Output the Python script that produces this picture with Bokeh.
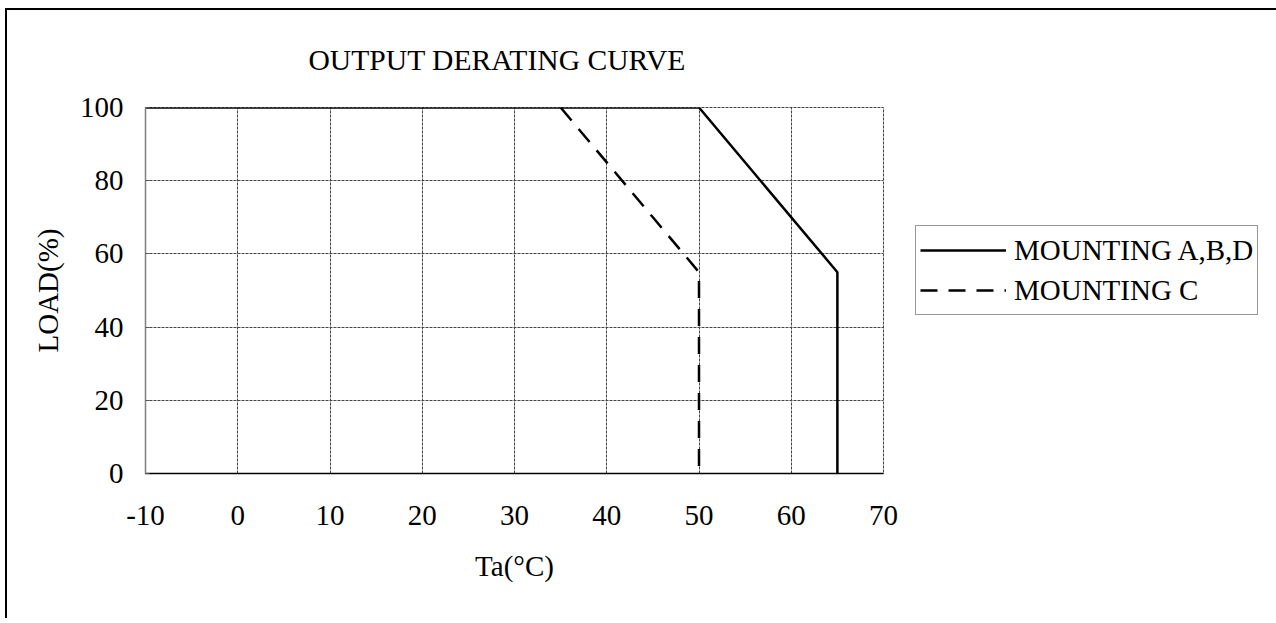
from bokeh.plotting import figure
from bokeh.models import Range1d, FixedTicker, Legend, LegendItem
from bokeh.embed import file_html
from bokeh.resources import INLINE

# ---- data ----
title_text = "OUTPUT DERATING CURVE"
x_label = "Ta(°C)"
y_label = "LOAD(%)"
x_ticks = [-10, 0, 10, 20, 30, 40, 50, 60, 70]
x_tick_labels = ["-10", "0", "10", "20", "30", "40", "50", "60", "70"]
y_ticks = [0, 20, 40, 60, 80, 100]
y_tick_labels = ["0", "20", "40", "60", "80", "100"]

series_names = ["MOUNTING A,B,D", "MOUNTING C"]
abd_temp = [-10, 50, 65, 65]
abd_load = [100, 100, 55, 0]
c_temp = [35, 45, 50, 50]
c_load = [100, 70, 55, 0]

FONT = "Liberation Serif"
FS = "29px"

p = figure(frame_width=738, frame_height=366,
           x_range=Range1d(-10, 70), y_range=Range1d(0, 100),
           output_backend="svg", toolbar_location=None,
           min_border_left=138, min_border_top=97,
           min_border_bottom=145, min_border_right=388)
p.outline_line_color = "#444444"
p.outline_line_width = 1
p.outline_line_dash = "3 1"
p.background_fill_color = "white"
p.border_fill_color = "white"
p.styles = {"margin-left": "5px", "margin-top": "8px",
            "border-left": "2px solid #000000",
            "border-top": "2px solid #000000"}

# title
p.title.text = title_text
p.title.text_font = FONT
p.title.text_font_size = "29.6px"
p.title.text_font_style = "normal"
p.title.text_color = "black"
p.title.align = "left"
p.title.offset = 163
p.title.vertical_align = "middle"
p.title.standoff = 61

# grids
p.xgrid.ticker = FixedTicker(ticks=x_ticks)
p.ygrid.ticker = FixedTicker(ticks=y_ticks)
for g in (p.xgrid, p.ygrid):
    g.grid_line_color = "#444444"
    g.grid_line_width = 1
    g.grid_line_dash = "3 1"

# axes
xa = p.xaxis[0]
ya = p.yaxis[0]
xa.ticker = FixedTicker(ticks=x_ticks)
ya.ticker = FixedTicker(ticks=y_ticks)
xa.major_label_overrides = {t: s for t, s in zip(x_ticks, x_tick_labels)}
ya.major_label_overrides = {t: s for t, s in zip(y_ticks, y_tick_labels)}
xa.minor_tick_line_color = None
ya.minor_tick_line_color = None
xa.major_tick_in = 0
xa.major_tick_out = 0
ya.major_tick_in = 4
ya.major_tick_out = 0
ya.major_tick_line_color = "#555555"
xa.axis_line_color = "black"
xa.axis_line_width = 1.5
ya.axis_line_color = "#808080"
ya.axis_line_width = 1.5
for a in (xa, ya):
    a.major_label_text_font = FONT
    a.major_label_text_font_size = FS
    a.major_label_text_color = "black"
    a.axis_label_text_font = FONT
    a.axis_label_text_font_size = FS
    a.axis_label_text_font_style = "normal"
    a.axis_label_text_color = "black"
xa.axis_label = x_label
ya.axis_label = y_label
xa.major_label_standoff = 32
ya.major_label_standoff = 22
xa.axis_label_standoff = 22
ya.axis_label_standoff = 13

# lines
r1 = p.line(abd_temp, abd_load, line_color="black", line_width=2.5)
r2 = p.line(c_temp, c_load, line_color="black", line_width=2.5, line_dash="17 11")

legend = Legend(items=[LegendItem(label=series_names[0], renderers=[r1]),
                       LegendItem(label=series_names[1], renderers=[r2])],
                location=(32, 158), margin=0, padding=4, spacing=0,
                glyph_width=86, glyph_height=40, label_height=40,
                label_standoff=8,
                label_text_font=FONT, label_text_font_size=FS,
                label_text_color="black",
                border_line_color="#333333", border_line_width=1,
                background_fill_color="white", background_fill_alpha=1.0)
p.add_layout(legend, "right")

open("out.html", "w").write(file_html(p, INLINE))
